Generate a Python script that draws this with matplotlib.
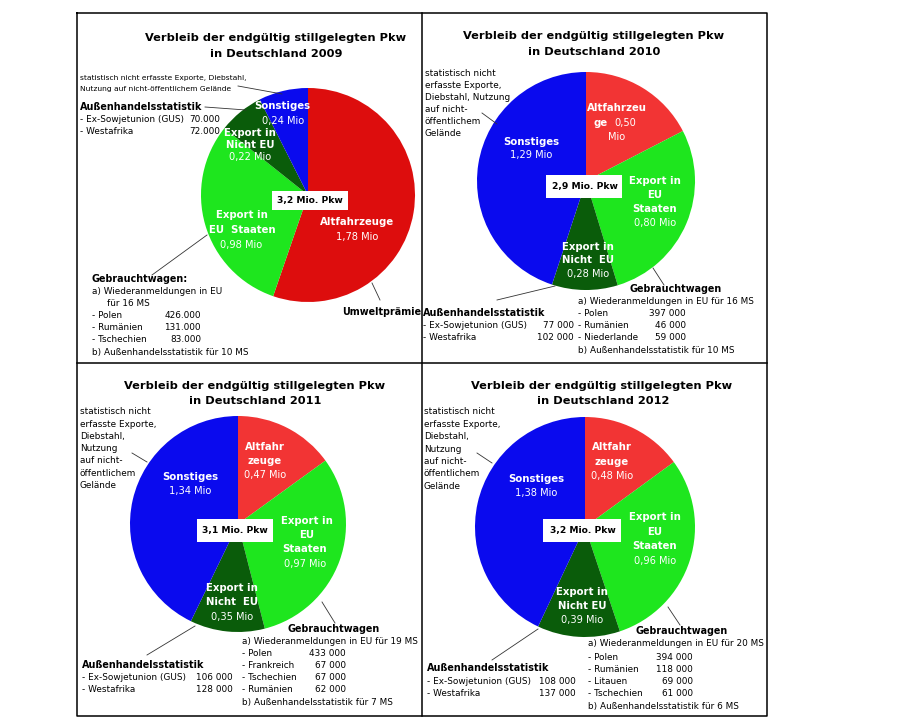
import matplotlib
matplotlib.use("Agg")
import matplotlib.pyplot as plt
from matplotlib.patches import Rectangle

plt.rcParams['font.family'] = ['DejaVu Sans']

# ---------------- data ----------------
years = [2009, 2010, 2011, 2012]
altfahrzeuge = [1.78, 0.50, 0.47, 0.48]
export_eu = [0.98, 0.80, 0.97, 0.96]
export_nicht_eu = [0.22, 0.28, 0.35, 0.39]
sonstiges = [0.24, 1.29, 1.34, 1.38]
total_labels = ["3,2 Mio. Pkw", "2,9 Mio. Pkw", "3,1 Mio. Pkw", "3,2 Mio. Pkw"]

gus = ["70.000", "77 000", "106 000", "108 000"]
westafrika = ["72.000", "102 000", "128 000", "137 000"]
ms_eu = [16, 16, 19, 20]
ms_aussen = [10, 10, 7, 6]
used_countries = [["Polen", "Rumänien", "Tschechien"],
                  ["Polen", "Rumänien", "Niederlande"],
                  ["Polen", "Frankreich", "Tschechien", "Rumänien"],
                  ["Polen", "Rumänien", "Litauen", "Tschechien"]]
used_values = [["426.000", "131.000", "83.000"],
               ["397 000", "46 000", "59 000"],
               ["433 000", "67 000", "67 000", "62 000"],
               ["394 000", "118 000", "69 000", "61 000"]]

def fmt(v):
    return f"{v:.2f}".replace(".", ",") + " Mio"

# ---------------- styling ----------------
RED09 = "#dd0d0d"
RED = "#f23434"
GREEN = "#1ee61e"
DGREEN = "#0a5c0a"
BLUE = "#0a0aee"
FS = 6.4      # small black text
FSH = 6.9     # bold black headings
FSB = 7.3     # bold white slice names
FSV = 7.1     # white values
FST = 8.2     # titles

fig = plt.figure(figsize=(9.2, 7.27), dpi=100)
ax = fig.add_axes([0, 0, 1, 1])

def t(x, y, s, ha="left", bold=False, color="black", size=FS, **kw):
    ax.text(x, y, s, ha=ha, va="center", color=color, fontsize=size,
            fontweight="bold" if bold else "normal", **kw)

def h(x, y, s, **kw):
    t(x, y, s, bold=True, size=FSH, **kw)

def wb(x, y, s):
    t(x, y, s, ha="center", bold=True, color="white", size=FSB)

def wv(x, y, s, ha="center"):
    t(x, y, s, ha=ha, color="white", size=FSV)

def line(x0, y0, x1, y1):
    ax.plot([x0, x1], [y0, y1], color="#333333", lw=0.6)

def pie(i, cx, cy, r, red):
    vals = [altfahrzeuge[i], export_eu[i], export_nicht_eu[i], sonstiges[i]]
    ax.pie(vals, colors=[red, GREEN, DGREEN, BLUE], startangle=-90,
           counterclock=True, center=(cx, cy), radius=r,
           wedgeprops=dict(linewidth=0))

def center_box(x, y, s, bw=76, bh=21):
    ax.add_patch(Rectangle((x - bw / 2, y - bh / 2), bw, bh, fc="white",
                           ec="none", zorder=5))
    ax.text(x, y, s, ha="center", va="center", fontsize=6.6, fontweight="bold",
            zorder=6)

TITLE1 = "Verbleib der endgültig stillgelegten Pkw"

# ---------- panel 2009 ----------
pie(0, 308, 195, 107, RED09)
t(276, 38, TITLE1, ha="center", bold=True, size=FST)
t(276, 54, f"in Deutschland {years[0]}", ha="center", bold=True, size=FST)
t(80, 78, "statistisch nicht erfasste Exporte, Diebstahl,", size=5.4)
t(80, 89, "Nutzung auf nicht-öffentlichem Gelände", size=5.4)
line(238, 86, 282, 94)
h(80, 107, "Außenhandelsstatistik")
line(205, 107, 246, 110)
t(80, 119, "- Ex-Sowjetunion (GUS)")
t(220, 119, gus[0], ha="right")
t(80, 131, "- Westafrika")
t(220, 131, westafrika[0], ha="right")
wb(282, 106, "Sonstiges")
wv(283, 121, fmt(sonstiges[0]))
wb(250, 133, "Export in")
wb(250, 145, "Nicht EU")
wv(250, 157, fmt(export_nicht_eu[0]))
center_box(310, 200, total_labels[0], bh=19)
wb(242, 215, "Export in")
wb(242, 230, "EU  Staaten")
wv(241, 245, fmt(export_eu[0]))
wb(357, 222, "Altfahrzeuge")
wv(357, 237, fmt(altfahrzeuge[0]))
line(372, 283, 380, 300)
h(342, 312, "Umweltprämie")
line(207, 235, 152, 275)
h(92, 279, "Gebrauchtwagen:")
t(92, 291, "a) Wiederanmeldungen in EU")
t(107, 303, f"für {ms_eu[0]} MS")
for k, (c, v) in enumerate(zip(used_countries[0], used_values[0])):
    t(92, 316 + 12 * k, "- " + c)
    t(201, 316 + 12 * k, v, ha="right")
t(92, 352, f"b) Außenhandelsstatistik für {ms_aussen[0]} MS")

# ---------- panel 2010 ----------
pie(1, 586, 181, 109, RED)
t(594, 36, TITLE1, ha="center", bold=True, size=FST)
t(594, 52, f"in Deutschland {years[1]}", ha="center", bold=True, size=FST)
for k, s in enumerate(["statistisch nicht", "erfasste Exporte,", "Diebstahl, Nutzung",
                       "auf nicht-", "öffentlichem", "Gelände"]):
    t(425, 73 + 12.2 * k, s)
line(482, 113, 497, 124)
wb(617, 108, "Altfahrzeu")
t(594, 123, "ge", bold=True, color="white", size=FSB)
wv(614, 123, f"{altfahrzeuge[1]:.2f}".replace(".", ","), ha="left")
wv(617, 137, "Mio")
wb(531, 142, "Sonstiges")
wv(531, 155, fmt(sonstiges[1]))
center_box(584.5, 186.5, total_labels[1], bh=23)
wb(655, 181, "Export in")
wb(655, 195, "EU")
wb(655, 209, "Staaten")
wv(655, 223, fmt(export_eu[1]))
wb(588, 247, "Export in")
wb(588, 260, "Nicht  EU")
wv(588, 274, fmt(export_nicht_eu[1]))
line(555, 286, 497, 300)
h(423, 313, "Außenhandelsstatistik")
t(423, 326, "- Ex-Sowjetunion (GUS)")
t(574, 326, gus[1], ha="right")
t(423, 338, "- Westafrika")
t(574, 338, westafrika[1], ha="right")
line(653, 268, 664, 285)
h(630, 289, "Gebrauchtwagen")
t(578, 302, f"a) Wiederanmeldungen in EU für {ms_eu[1]} MS")
for k, (c, v) in enumerate(zip(used_countries[1], used_values[1])):
    t(578, 314 + 12 * k, "- " + c)
    t(686, 314 + 12 * k, v, ha="right")
t(578, 351, f"b) Außenhandelsstatistik für {ms_aussen[1]} MS")

# ---------- panel 2011 ----------
pie(2, 238, 524, 108, RED)
t(255, 386, TITLE1, ha="center", bold=True, size=FST)
t(255, 401, f"in Deutschland {years[2]}", ha="center", bold=True, size=FST)
for k, s in enumerate(["statistisch nicht", "erfasste Exporte,", "Diebstahl,", "Nutzung",
                       "auf nicht-", "öffentlichem", "Gelände"]):
    t(80, 412 + 12.2 * k, s)
line(132, 453, 147, 462)
wb(265, 447, "Altfahr")
wb(265, 461, "zeuge")
wv(265, 475, fmt(altfahrzeuge[2]))
wb(190, 477, "Sonstiges")
wv(190, 491, fmt(sonstiges[2]))
center_box(235, 530, total_labels[2], bh=23)
wb(307, 521, "Export in")
wb(307, 535, "EU")
wb(305, 549, "Staaten")
wv(305, 564, fmt(export_eu[2]))
wb(232, 588, "Export in")
wb(232, 602, "Nicht  EU")
wv(232, 617, fmt(export_nicht_eu[2]))
line(195, 626, 147, 655)
h(82, 665, "Außenhandelsstatistik")
t(82, 677, "- Ex-Sowjetunion (GUS)")
t(233, 677, gus[2], ha="right")
t(82, 689, "- Westafrika")
t(233, 689, westafrika[2], ha="right")
line(322, 602, 335, 623)
h(288, 629, "Gebrauchtwagen")
t(242, 641, f"a) Wiederanmeldungen in EU für {ms_eu[2]} MS")
for k, (c, v) in enumerate(zip(used_countries[2], used_values[2])):
    t(242, 653 + 12 * k, "- " + c)
    t(346, 653 + 12 * k, v, ha="right")
t(242, 702, f"b) Außenhandelsstatistik für {ms_aussen[2]} MS")

# ---------- panel 2012 ----------
pie(3, 585, 527, 110, RED)
t(602, 386, TITLE1, ha="center", bold=True, size=FST)
t(603, 401, f"in Deutschland {years[3]}", ha="center", bold=True, size=FST)
for k, s in enumerate(["statistisch nicht", "erfasste Exporte,", "Diebstahl,", "Nutzung",
                       "auf nicht-", "öffentlichem", "Gelände"]):
    t(424, 412 + 12.4 * k, s)
line(477, 453, 492, 463)
wb(612, 447, "Altfahr")
wb(612, 462, "zeuge")
wv(612, 476, fmt(altfahrzeuge[3]))
wb(536, 479, "Sonstiges")
wv(536, 493, fmt(sonstiges[3]))
center_box(582.5, 530.5, total_labels[3], bw=78, bh=23)
wb(655, 517, "Export in")
wb(655, 532, "EU")
wb(655, 546, "Staaten")
wv(655, 561, fmt(export_eu[3]))
wb(582, 592, "Export in")
wb(582, 606, "Nicht EU")
wv(582, 620, fmt(export_nicht_eu[3]))
line(538, 629, 492, 660)
h(427, 668, "Außenhandelsstatistik")
t(427, 682, "- Ex-Sowjetunion (GUS)")
t(576, 682, gus[3], ha="right")
t(427, 694, "- Westafrika")
t(576, 694, westafrika[3], ha="right")
line(668, 607, 680, 625)
h(636, 631, "Gebrauchtwagen")
t(588, 644, f"a) Wiederanmeldungen in EU für {ms_eu[3]} MS")
for k, (c, v) in enumerate(zip(used_countries[3], used_values[3])):
    t(588, 657 + 12.3 * k, "- " + c)
    t(693, 657 + 12.3 * k, v, ha="right")
t(588, 707, f"b) Außenhandelsstatistik für {ms_aussen[3]} MS")

# ---------- frame ----------
bk = dict(color="black", lw=1.1, solid_capstyle="projecting", zorder=10)
ax.plot([77, 767, 767, 77, 77], [13, 13, 716, 716, 13], **bk)
ax.plot([422, 422], [13, 716], **bk)
ax.plot([77, 767], [363, 363], **bk)

ax.set_aspect("auto")
ax.set_xlim(0, 920)
ax.set_ylim(727, 0)
ax.axis("off")

fig.savefig("out.png", dpi=100, facecolor="white")
